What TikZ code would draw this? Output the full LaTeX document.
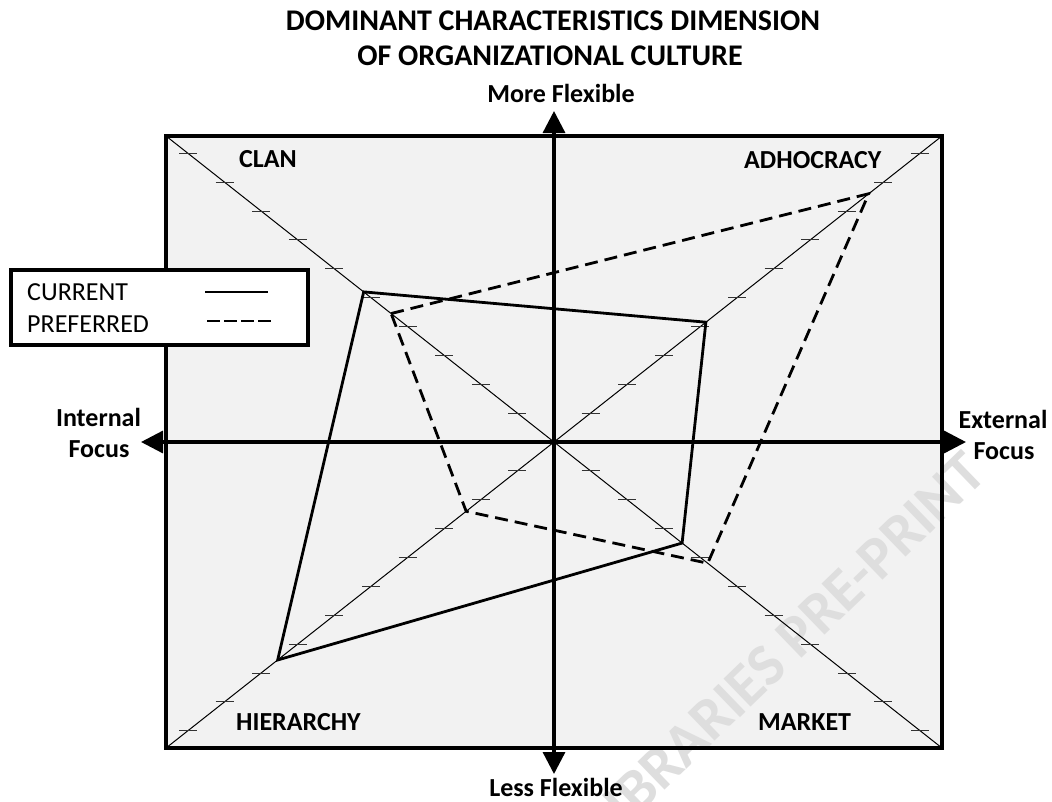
\documentclass[tikz,border=0pt]{standalone}
\usepackage{fontspec}
\setmainfont{Carlito}
\usetikzlibrary{arrows.meta,calc}
\begin{document}
\begin{tikzpicture}[x=1pt,y=-1pt,
  ttl/.style={font=\fontsize{30}{36}\selectfont\bfseries, inner sep=0pt, anchor=base},
  axlbl/.style={font=\fontsize{26}{31}\selectfont\bfseries, inner sep=0pt, anchor=base},
  qlbl/.style={font=\fontsize{26}{31}\selectfont\bfseries, inner sep=0pt, anchor=base west},
  leglbl/.style={font=\fontsize{26}{31}\selectfont, inner sep=0pt, anchor=base west},
  axisline/.style={line width=3.3pt, {Triangle[length=22pt,width=22pt]}-{Triangle[length=22pt,width=22pt]}},
  curline/.style={line width=2.8pt, line join=miter},
  prefline/.style={line width=2.8pt, dash pattern=on 13pt off 7pt},
  legdash/.style={line width=2.8pt, dash pattern=on 12.5pt off 4.5pt},
  diagline/.style={line width=1pt},
  tickline/.style={line width=0.9pt, draw=black!80},
  legbox/.style={draw, fill=white, line width=3.3pt, minimum width=297pt, minimum height=75pt, inner sep=0pt},
  wmark/.style={rotate=44, text=black!13, font=\fontsize{60}{62}\selectfont\bfseries, inner sep=0pt}
]
\useasboundingbox (0,0) rectangle (1052,801);
\fill[white] (0,0) rectangle (1052,801);

% corners and centre
\coordinate (C) at (554,442);
\coordinate (TL) at (166,136);
\coordinate (TR) at (942,136);
\coordinate (BR) at (942,748);
\coordinate (BL) at (166,748);

% panel fill
\fill[black!5] (TL) rectangle (BR);

% watermark
\node[wmark] (wm) at (785,647) {LIBRARIES PRE-PRINT};

% diagonals
\draw[diagline] (TL) -- (BR);
\draw[diagline] (TR) -- (BL);

% ticks
\foreach \sx/\sy in {-1/-1,1/-1,1/1,-1/1}
  \foreach \i in {1,...,10}
    \draw[tickline] ({554+\sx*\i*36.6-9},{442+\sy*\i*28.87}) -- ++(18,0);

% axes
\coordinate (axT) at (554,111);
\coordinate (axB) at (554,774);
\coordinate (axL) at (141,442);
\coordinate (axR) at (966,442);
\draw[axisline] (axB) -- (axT);
\draw[axisline] (axL) -- (axR);

% data points
\coordinate (cC) at ($(C)+5.2*(-36.6,-28.87)$);
\coordinate (cA) at ($(C)+4.15*(36.6,-28.87)$);
\coordinate (cM) at ($(C)+3.5*(36.6,28.87)$);
\coordinate (cH) at ($(C)+7.55*(-36.6,28.87)$);
\coordinate (pC) at ($(C)+4.45*(-36.6,-28.87)$);
\coordinate (pA) at ($(C)+8.6*(36.6,-28.87)$);
\coordinate (pM) at ($(C)+4.2*(36.6,28.87)$);
\coordinate (pH) at ($(C)+2.4*(-36.6,28.87)$);

\draw[prefline] (pC) -- (pA) -- (pM) -- (pH) -- cycle;
\draw[curline] (cC) -- (cA) -- (cM) -- (cH) -- cycle;

% panel border
\draw[line width=3.3pt] (TL) rectangle (BR);

% quadrant labels
\node[qlbl] (clan) at (239,167) {CLAN};
\node[qlbl] (adh) at (744,168) {ADHOCRACY};
\node[qlbl] (hier) at (236,730) {HIERARCHY};
\node[qlbl] (mark) at (758,730) {MARKET};

% titles
\node[ttl] (t1) at (553,30) {DOMINANT CHARACTERISTICS DIMENSION};
\node[ttl] (t2) at (550,65) {OF ORGANIZATIONAL CULTURE};

% axis labels
\node[axlbl] (mf) at (561,102) {More Flexible};
\node[axlbl] (lf) at (556,796) {Less Flexible};
\node[axlbl] (if1) at (98.5,426) {Internal};
\node[axlbl] (if2) at (99,457) {Focus};
\node[axlbl] (ef1) at (1003,428) {External};
\node[axlbl] (ef2) at (1004,459) {Focus};

% legend
\node[legbox] (leg) at (159.5,307.5) {};
\node[leglbl] (lcur) at (27,300) {CURRENT};
\node[leglbl] (lpre) at (27,332) {PREFERRED};
\coordinate (ls1) at (205,292);
\coordinate (ls2) at (268,292);
\coordinate (ld1) at (207,321);
\coordinate (ld2) at (271,321);
\draw[curline] (ls1) -- (ls2);
\draw[legdash] (ld1) -- (ld2);
\end{tikzpicture}
\end{document}
